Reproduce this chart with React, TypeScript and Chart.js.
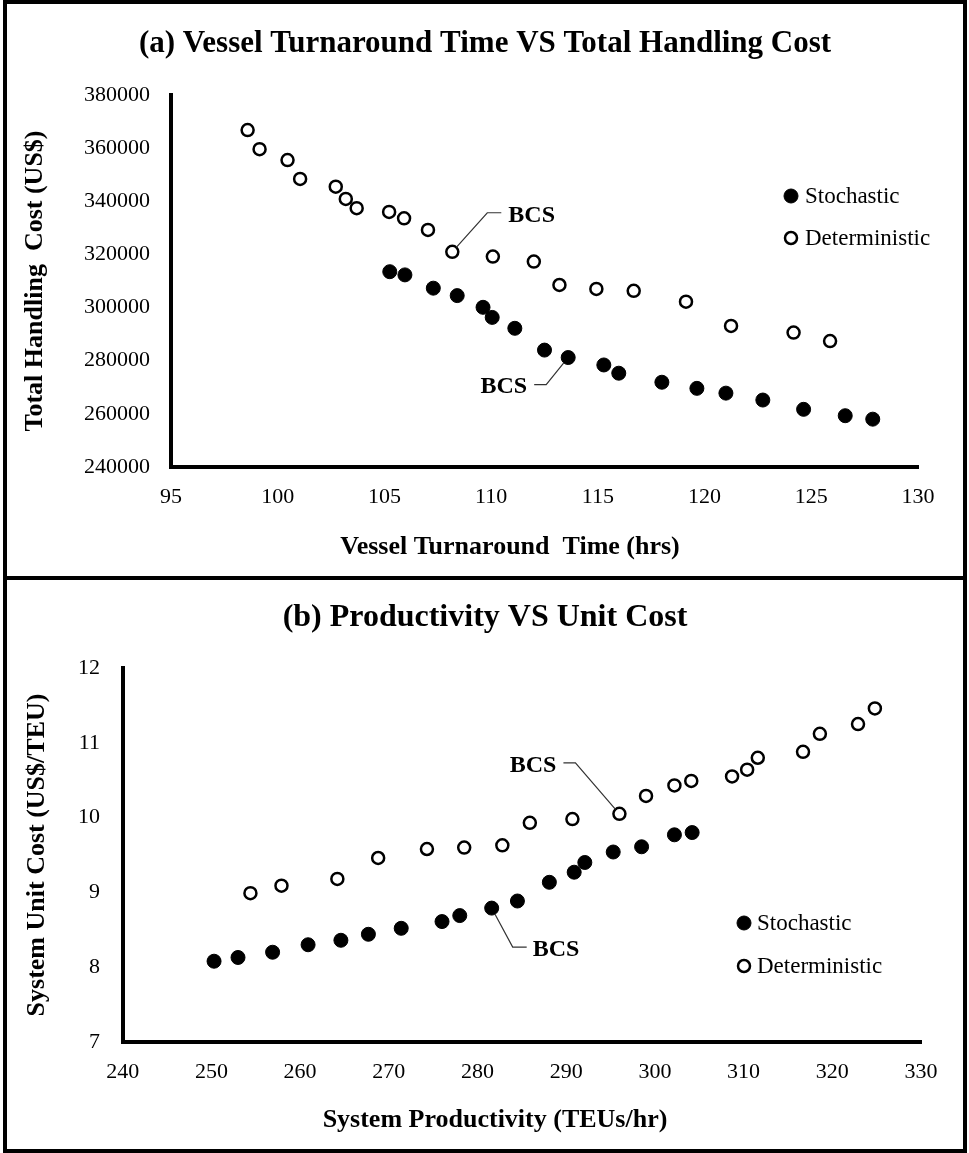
import React, { useEffect, useRef } from 'react';
import { Chart, registerables } from 'chart.js';

Chart.register(...registerables);

const FONT = '"Liberation Serif", "Times New Roman", serif';

// ---------- Panel (a): Vessel Turnaround Time vs Total Handling Cost ----------
const turnaroundStochastic = [105.25, 105.96, 107.29, 108.41, 109.62, 110.05, 111.11, 112.5, 113.61, 115.28, 115.98, 118.0, 119.64, 121.0, 122.73, 124.64, 126.59, 127.88];
const costStochastic = [313500, 312300, 307300, 304500, 300100, 296300, 292200, 284000, 281200, 278400, 275300, 271900, 269600, 267800, 265200, 261700, 259300, 258000];
const turnaroundDeterministic = [98.59, 99.15, 100.46, 101.05, 102.72, 103.19, 103.7, 105.22, 105.92, 107.04, 108.18, 110.08, 112.0, 113.2, 114.93, 116.68, 119.13, 121.24, 124.17, 125.88];
const costDeterministic = [366800, 359600, 355500, 348400, 345500, 340900, 337400, 336000, 333600, 329200, 321000, 319200, 317300, 308500, 307000, 306300, 302200, 293100, 290600, 287400];
const turnaroundTicks = [95, 100, 105, 110, 115, 120, 125, 130];
const costTicks = [240000, 260000, 280000, 300000, 320000, 340000, 360000, 380000];
const bcsIndexA = { stochastic: 8, deterministic: 10 };

// ---------- Panel (b): Productivity vs Unit Cost ----------
const productivityStochastic = [250.3, 253.0, 256.9, 260.9, 264.6, 267.7, 271.4, 276.0, 278.0, 281.6, 284.5, 288.1, 290.9, 292.1, 295.3, 298.5, 302.2, 304.2];
const unitCostStochastic = [8.08, 8.13, 8.2, 8.3, 8.36, 8.44, 8.52, 8.61, 8.69, 8.79, 8.885, 9.135, 9.27, 9.4, 9.54, 9.61, 9.77, 9.8];
const productivityDeterministic = [254.4, 257.9, 264.2, 268.8, 274.3, 278.5, 282.8, 285.9, 290.7, 296.0, 299.0, 302.2, 304.1, 308.7, 310.4, 311.6, 316.7, 318.6, 322.9, 324.8];
const unitCostDeterministic = [8.99, 9.09, 9.18, 9.46, 9.58, 9.6, 9.63, 9.93, 9.98, 10.05, 10.29, 10.43, 10.49, 10.55, 10.64, 10.8, 10.88, 11.12, 11.25, 11.46];
const productivityTicks = [240, 250, 260, 270, 280, 290, 300, 310, 320, 330];
const unitCostTicks = [7, 8, 9, 10, 11, 12];
const bcsIndexB = { stochastic: 9, deterministic: 9 };

const seriesNames = ['Stochastic', 'Deterministic'];

const zip = (xs: number[], ys: number[]) => xs.map((x, i) => ({ x, y: ys[i] }));

const overlayPlugin = {
  id: 'overlay',
  afterDraw(chart: any, _args: any, opts: any) {
    const ctx = chart.ctx;
    ctx.save();
    // x-axis title
    if (opts.xTitle) {
      ctx.font = `bold ${opts.xTitle.size}px ${FONT}`;
      ctx.fillStyle = '#000';
      ctx.textAlign = 'center';
      ctx.textBaseline = 'middle';
      ctx.fillText(opts.xTitle.text, opts.xTitle.x, opts.xTitle.y);
    }
    // legend
    const lg = opts.legend;
    chart.data.datasets.forEach((ds: any, i: number) => {
      const y = lg.y + i * lg.gap;
      ctx.beginPath();
      ctx.arc(lg.x, y, ds.pointRadius, 0, Math.PI * 2);
      ctx.fillStyle = ds.pointBackgroundColor;
      ctx.fill();
      ctx.lineWidth = ds.pointBorderWidth;
      ctx.strokeStyle = ds.pointBorderColor;
      ctx.stroke();
      ctx.fillStyle = '#000';
      ctx.font = `${lg.size}px ${FONT}`;
      ctx.textAlign = 'left';
      ctx.textBaseline = 'middle';
      ctx.fillText(ds.label, lg.textX, y + 1);
    });
    // BCS call-outs
    (opts.bcs || []).forEach((b: any) => {
      const el = chart.getDatasetMeta(b.dataset).data[b.index];
      if (!el) return;
      const px = el.x;
      const py = el.y;
      const e1 = b.path[0];
      const e2 = b.path[1];
      const ang = Math.atan2(e1[1], e1[0]);
      ctx.beginPath();
      ctx.moveTo(px + Math.cos(ang) * b.start, py + Math.sin(ang) * b.start);
      ctx.lineTo(px + e1[0], py + e1[1]);
      ctx.lineTo(px + e2[0], py + e2[1]);
      ctx.strokeStyle = '#333';
      ctx.lineWidth = 1.2;
      ctx.stroke();
      ctx.font = `bold ${b.size}px ${FONT}`;
      ctx.fillStyle = '#000';
      ctx.textAlign = b.align;
      ctx.textBaseline = 'middle';
      ctx.fillText('BCS', px + b.textAt[0], py + b.textAt[1]);
    });
    ctx.restore();
  },
};

function makeConfig(p: any): any {
  const tickFont = { family: FONT, size: 22 };
  return {
    type: 'scatter',
    data: {
      datasets: [
        {
          label: seriesNames[0],
          data: p.stoch,
          pointRadius: 7,
          pointHoverRadius: 7,
          pointBackgroundColor: '#000',
          pointBorderColor: '#000',
          pointBorderWidth: 1,
          showLine: false,
        },
        {
          label: seriesNames[1],
          data: p.det,
          pointRadius: 6,
          pointHoverRadius: 6,
          pointBackgroundColor: '#fff',
          pointBorderColor: '#000',
          pointBorderWidth: 2.5,
          showLine: false,
        },
      ],
    },
    options: {
      responsive: false,
      animation: false,
      events: [],
      layout: { padding: 0 },
      plugins: {
        legend: { display: false },
        tooltip: { enabled: false },
        title: {
          display: true,
          text: p.title,
          color: '#000',
          font: { family: FONT, size: p.titleSize, weight: 'bold', lineHeight: 1.2 },
          padding: { top: p.titlePadTop, bottom: p.titlePadBottom },
        },
        overlay: p.overlay,
      },
      scales: {
        x: {
          type: 'linear',
          min: p.xTicks[0],
          max: p.xTicks[p.xTicks.length - 1],
          grid: { display: false, drawTicks: false },
          border: { display: true, color: '#000', width: 4 },
          ticks: {
            font: tickFont,
            color: '#000',
            padding: 16.8,
            maxRotation: 0,
            autoSkip: false,
            callback: (v: any) => String(v),
          },
          title: { display: false },
          afterBuildTicks: (s: any) => {
            s.ticks = p.xTicks.map((v: number) => ({ value: v }));
          },
          afterFit: (s: any) => {
            s.height = p.xHeight;
          },
        },
        y: {
          type: 'linear',
          min: p.yTicks[0],
          max: p.yTicks[p.yTicks.length - 1],
          grid: { display: false, drawTicks: false },
          border: { display: true, color: '#000', width: 4 },
          ticks: {
            font: tickFont,
            color: '#000',
            padding: p.yTickPad,
            autoSkip: false,
            callback: (v: any) => String(v),
          },
          title: {
            display: true,
            text: p.yTitle,
            color: '#000',
            font: { family: FONT, size: 26, weight: 'bold', lineHeight: 1.2 },
            padding: { top: p.yTitlePad, bottom: 0 },
          },
          afterBuildTicks: (s: any) => {
            s.ticks = p.yTicks.map((v: number) => ({ value: v }));
          },
          afterFit: (s: any) => {
            s.width = p.yWidth;
          },
        },
        // empty right-hand margin box so the chart title stays centred on the whole panel
        yMargin: {
          type: 'linear',
          position: 'right',
          display: true,
          grid: { display: false, drawTicks: false },
          border: { display: false },
          ticks: { display: false },
          title: { display: false },
          afterFit: (s: any) => {
            s.width = p.rightPad;
          },
        },
      },
    },
    plugins: [overlayPlugin],
  };
}

const panelA = {
  title: '(a) Vessel Turnaround Time VS Total Handling Cost',
  titleSize: 31,
  titlePadTop: 21.4,
  titlePadBottom: 32.4,
  stoch: zip(turnaroundStochastic, costStochastic),
  det: zip(turnaroundDeterministic, costDeterministic),
  xTicks: turnaroundTicks,
  yTicks: costTicks,
  yTitle: 'Total Handling  Cost (US$)',
  yWidth: 164,
  xHeight: 109,
  rightPad: 45,
  yTickPad: 21,
  yTitlePad: 12.4,
  overlay: {
    xTitle: { text: 'Vessel Turnaround  Time (hrs)', size: 26, x: 503, y: 543 },
    legend: { x: 784, y: 192, gap: 42, textX: 798, size: 23 },
    bcs: [
      { dataset: 1, index: bcsIndexA.deterministic, start: 6, path: [[35, -39], [49, -39]], textAt: [56, -36], align: 'left', size: 24 },
      { dataset: 0, index: bcsIndexA.stochastic, start: 7, path: [[-22, 27], [-34, 27]], textAt: [-41, 29], align: 'right', size: 24 },
    ],
  },
};

const panelB = {
  title: '(b) Productivity VS Unit Cost',
  titleSize: 32,
  titlePadTop: 18.8,
  titlePadBottom: 30.8,
  stoch: zip(productivityStochastic, unitCostStochastic),
  det: zip(productivityDeterministic, unitCostDeterministic),
  xTicks: productivityTicks,
  yTicks: unitCostTicks,
  yTitle: 'System Unit Cost (US$/TEU)',
  yWidth: 115.7,
  xHeight: 107,
  rightPad: 42,
  yTickPad: 22.7,
  yTitlePad: 14.4,
  overlay: {
    xTitle: { text: 'System Productivity (TEUs/hr)', size: 26, x: 488, y: 540 },
    legend: { x: 737, y: 343, gap: 43, textX: 750, size: 23 },
    bcs: [
      { dataset: 1, index: bcsIndexB.deterministic, start: 6, path: [[-44, -51], [-56, -51]], textAt: [-63, -48], align: 'right', size: 24 },
      { dataset: 0, index: bcsIndexB.stochastic, start: 7, path: [[21, 39], [35, 39]], textAt: [41, 42], align: 'left', size: 24 },
    ],
  },
};

function Panel({ spec, height }: { spec: any; height: number }) {
  const ref = useRef<HTMLCanvasElement | null>(null);
  useEffect(() => {
    if (!ref.current) return;
    const chart = new Chart(ref.current, makeConfig(spec));
    return () => chart.destroy();
  }, [spec]);
  return <canvas ref={ref} width={956} height={height} style={{ display: 'block', width: 956, height }} />;
}

export default function App() {
  return (
    <div
      style={{
        position: 'absolute',
        left: 3,
        top: 0,
        width: 964,
        height: 1153,
        boxSizing: 'border-box',
        border: '4px solid #000',
        background: '#fff',
      }}
    >
      <Panel spec={panelA} height={572} />
      <div style={{ height: 4, background: '#000' }} />
      <Panel spec={panelB} height={569} />
    </div>
  );
}
